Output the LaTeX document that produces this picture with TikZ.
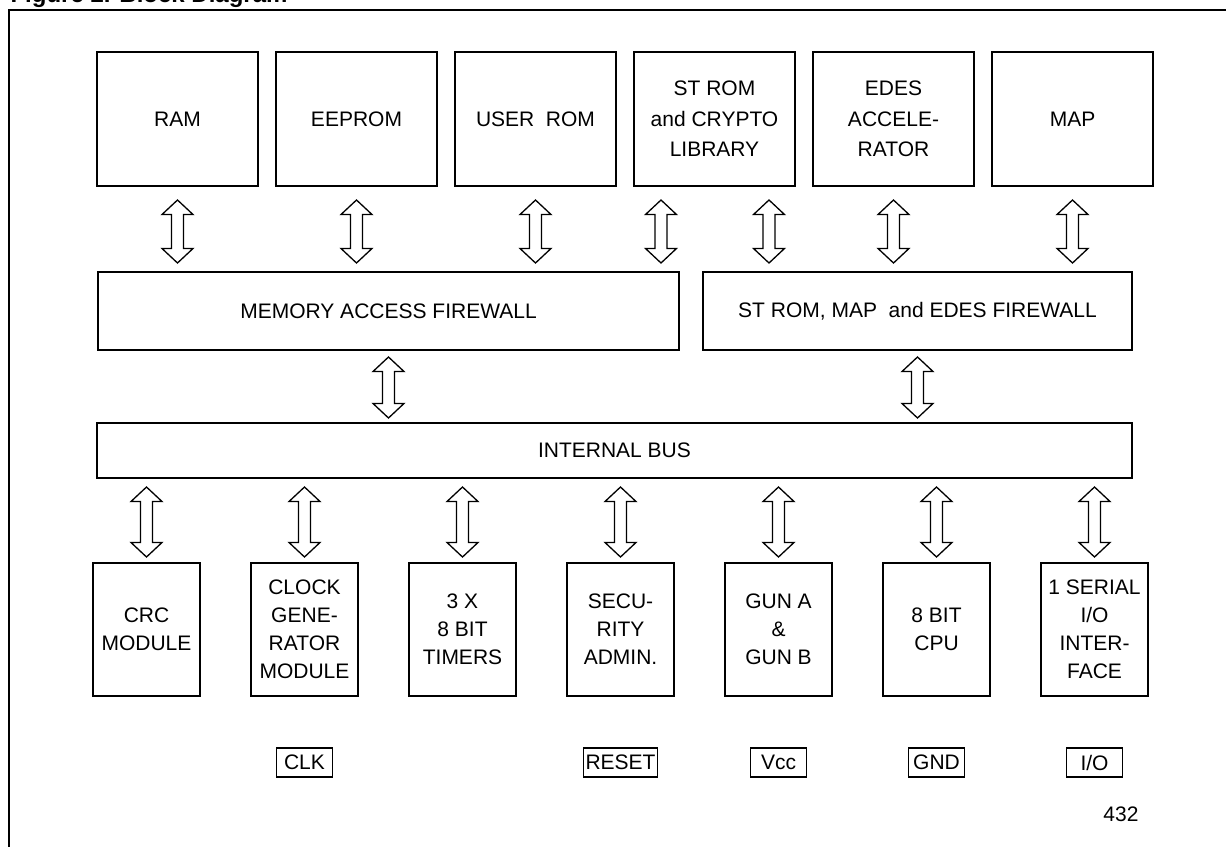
\documentclass[tikz,border=0pt]{standalone}
\usepackage{fontspec}
\setmainfont{Liberation Sans}
\usepackage{tikz}
\usetikzlibrary{positioning, calc}

\begin{document}
\begin{tikzpicture}[x=1pt, y=-1pt, font=\fontsize{21pt}{26.5pt}\selectfont]

        % Define block styles
        \tikzstyle{memory} = [rectangle, draw, line width=1.6pt, outer sep=0pt, align=center, font=\fontsize{21pt}{30.5pt}\selectfont, minimum width=161pt, minimum height=134pt]
        \tikzstyle{firewall} = [rectangle, draw, line width=1.6pt, outer sep=0pt, minimum height=78pt]
        \tikzstyle{module} = [rectangle, draw, line width=1.6pt, outer sep=0pt, inner sep=1pt, align=center, font=\fontsize{21pt}{28pt}\selectfont, minimum width=107pt, minimum height=133pt]
        \tikzstyle{padbox} = [rectangle, draw, line width=1.4pt, outer sep=0pt, inner sep=2pt, minimum width=56pt, minimum height=29pt]
        \tikzstyle{busarrow} = [draw, line width=1.3pt, to path={let \p1=(\tikztostart), \p2=(\tikztotarget) in
          (\x1,\y1) -- (\x1+15.5pt,\y1-14.5pt) -- (\x1+6pt,\y1-14.5pt) -- (\x1+6pt,\y2+14.5pt) -- (\x1+15.5pt,\y2+14.5pt)
          -- (\x1,\y2) -- (\x1-15.5pt,\y2+14.5pt) -- (\x1-6pt,\y2+14.5pt) -- (\x1-6pt,\y1-14.5pt) -- (\x1-15.5pt,\y1-14.5pt) -- cycle}]

        \useasboundingbox (0,0) rectangle (1226,846);

        % Frame
        \draw [line width=2.8pt] (9,880) -- (9,10) -- (1250,10);
        \node [anchor=base west, font=\bfseries\fontsize{24pt}{28pt}\selectfont] (title) at (7,2) {Figure 2. Block Diagram};

        % Memories
        \node (ram) [memory] at (177.5,119) {RAM};
        \node (eeprom) [memory, right=18pt of ram] {EEPROM};
        \node (userrom) [memory, right=18pt of eeprom] {USER\ \ ROM};
        \node (strom) [memory, right=18pt of userrom] {ST ROM\\and CRYPTO\\LIBRARY};
        \node (edes) [memory, right=18pt of strom] {EDES\\ACCELE-\\RATOR};
        \node (map) [memory, right=18pt of edes] {MAP};

        % Firewalls and bus
        \node (memfw) [firewall, minimum width=581pt] at (388.5,311) {MEMORY ACCESS FIREWALL};
        \node (stfw) [firewall, minimum width=429pt] at (917.5,311) {ST ROM, MAP\ \ and EDES FIREWALL};
        \node (bus) [firewall, minimum width=1035pt, minimum height=55pt] at (614.5,450.5) {INTERNAL BUS};

        % Modules
        \node (crc) [module] at (146.5,629.5) {CRC\\MODULE};
        \node (clock) [module, right=51pt of crc] {CLOCK\\GENE-\\RATOR\\MODULE};
        \node (timers) [module, right=51pt of clock] {3 X\\8 BIT\\TIMERS};
        \node (security) [module, right=51pt of timers] {SECU-\\RITY\\ADMIN.};
        \node (gun) [module, right=51pt of security] {GUN A\\\&\\GUN B};
        \node (cpu) [module, right=51pt of gun] {8 BIT\\CPU};
        \node (serial) [module, right=51pt of cpu] {1 SERIAL\\I/O\\INTER-\\FACE};

        % Pads
        \node (clk) [padbox, below=52pt of clock] {CLK};
        \node (reset) [padbox, below=52pt of security] {RESET};
        \node (vcc) [padbox, below=52pt of gun] {Vcc};
        \node (gnd) [padbox, below=52pt of cpu] {GND};
        \node (io) [padbox, below=52pt of serial] {I/O};
        \node (code) at (1121,814) {432};

        % Arrows
        \draw [busarrow] ([yshift=-14pt]ram.south) to ([yshift=9pt]ram.south |- memfw.north);
        \draw [busarrow] ([yshift=-14pt]eeprom.south) to ([yshift=9pt]eeprom.south |- memfw.north);
        \draw [busarrow] ([yshift=-14pt]userrom.south) to ([yshift=9pt]userrom.south |- memfw.north);
        \draw [busarrow] ([xshift=-53.5pt, yshift=-14pt]strom.south) to ([xshift=-53.5pt, yshift=9pt]strom.south |- memfw.north);
        \draw [busarrow] ([xshift=54.5pt, yshift=-14pt]strom.south) to ([xshift=54.5pt, yshift=9pt]strom.south |- stfw.north);
        \draw [busarrow] ([yshift=-14pt]edes.south) to ([yshift=9pt]edes.south |- stfw.north);
        \draw [busarrow] ([yshift=-14pt]map.south) to ([yshift=9pt]map.south |- stfw.north);
        \draw [busarrow] ([yshift=-7pt]memfw.south) to ([yshift=5pt]memfw.south |- bus.north);
        \draw [busarrow] ([yshift=-7pt]stfw.south) to ([yshift=5pt]stfw.south |- bus.north);
        \draw [busarrow] ([yshift=-9pt]crc.north |- bus.south) to ([yshift=6pt]crc.north);
        \draw [busarrow] ([yshift=-9pt]clock.north |- bus.south) to ([yshift=6pt]clock.north);
        \draw [busarrow] ([yshift=-9pt]timers.north |- bus.south) to ([yshift=6pt]timers.north);
        \draw [busarrow] ([yshift=-9pt]security.north |- bus.south) to ([yshift=6pt]security.north);
        \draw [busarrow] ([yshift=-9pt]gun.north |- bus.south) to ([yshift=6pt]gun.north);
        \draw [busarrow] ([yshift=-9pt]cpu.north |- bus.south) to ([yshift=6pt]cpu.north);
        \draw [busarrow] ([yshift=-9pt]serial.north |- bus.south) to ([yshift=6pt]serial.north);

      \end{tikzpicture}
\end{document}
